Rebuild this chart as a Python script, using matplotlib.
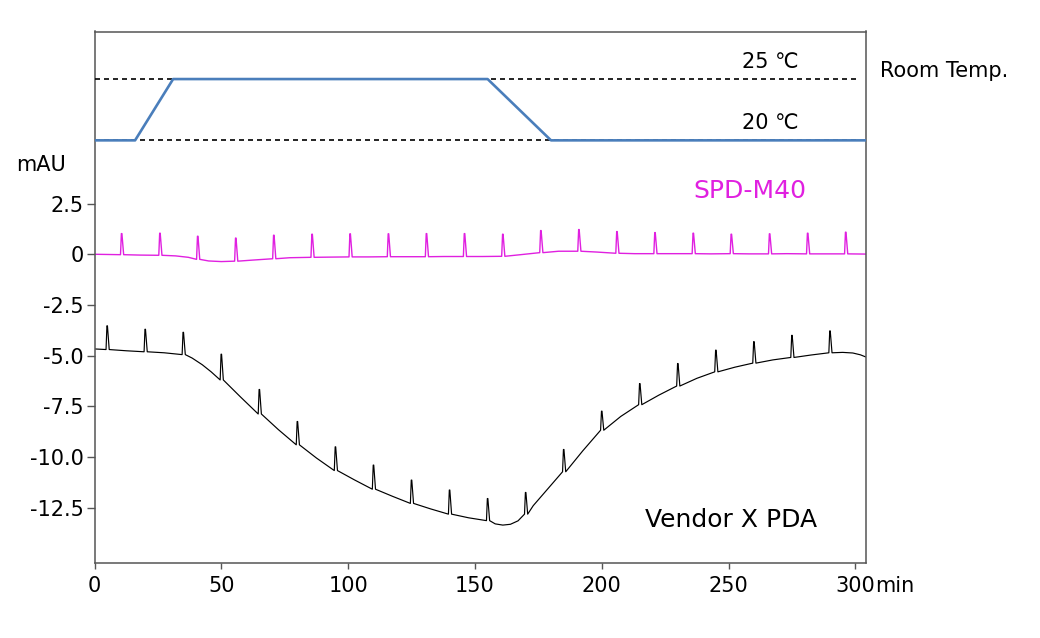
import numpy as np
import matplotlib
matplotlib.use("Agg")
import matplotlib.pyplot as plt

plt.rcParams['font.family'] = ['DejaVu Sans', 'Noto Sans CJK JP']
plt.rcParams['axes.unicode_minus'] = False

# ---- Room temperature program (deg C vs min) ----
temp_time = [0, 16, 31, 155, 180, 304]
temp_value = [20, 20, 25, 25, 20, 20]
temp_levels = [25, 20]
temp_labels = ['25 ℃', '20 ℃']

# ---- SPD-M40 trace (mAU) ----
spd_base_t = [0, 10.7, 18, 25.8, 32, 37, 40.7, 45, 50, 55.7, 62, 70.7, 77, 85.8, 93,
              100.8, 108, 115.9, 123, 130.9, 138, 145.9, 153, 161.0, 168, 176.0, 183,
              191.0, 198, 206.0, 213, 221.0, 228, 236.1, 243, 251.1, 258, 266.2, 273,
              281.2, 288, 296.2, 304]
spd_base_v = [0.0, -0.02, -0.04, -0.05, -0.08, -0.15, -0.25, -0.33, -0.36, -0.34, -0.29,
              -0.22, -0.17, -0.15, -0.14, -0.13, -0.13, -0.12, -0.12, -0.12, -0.11, -0.11,
              -0.11, -0.10, -0.02, 0.08, 0.15, 0.15, 0.11, 0.05, 0.03, 0.03, 0.03, 0.03,
              0.02, 0.03, 0.02, 0.02, 0.03, 0.02, 0.02, 0.02, 0.01]
spd_peak_t = [10.7, 25.8, 40.7, 55.7, 70.7, 85.8, 100.8, 115.9, 130.9, 145.9, 161.0,
              176.0, 191.0, 206.0, 221.0, 236.1, 251.1, 266.2, 281.2, 296.2]
spd_peak_v = [1.02, 1.04, 0.89, 0.80, 0.94, 0.99, 1.01, 1.01, 1.02, 1.02, 0.99,
              1.17, 1.22, 1.12, 1.07, 1.04, 0.99, 1.01, 1.04, 1.09]

# ---- Vendor X PDA trace (mAU) ----
vx_base_t = [0, 5, 12.5, 20, 27.5, 35, 38.5, 42.5, 46, 50, 57.5, 65, 72.5, 80, 87.5, 95,
             102.5, 110, 117.5, 125, 132.5, 140, 147.5, 155, 158, 161, 164, 167, 170, 173,
             177.5, 185, 192.5, 200, 207.5, 215, 222.5, 230, 237.5, 245, 252.5, 260,
             267.5, 275, 282.5, 290, 295, 299, 302, 304]
vx_base_v = [-4.67, -4.70, -4.76, -4.81, -4.86, -4.95, -5.12, -5.45, -5.80, -6.20, -7.03,
             -7.88, -8.65, -9.40, -10.05, -10.67, -11.13, -11.59, -11.94, -12.29, -12.56,
             -12.82, -13.00, -13.14, -13.30, -13.36, -13.32, -13.15, -12.82, -12.40,
             -11.75, -10.73, -9.70, -8.68, -8.00, -7.42, -6.95, -6.50, -6.12, -5.80,
             -5.57, -5.37, -5.21, -5.09, -4.97, -4.86, -4.84, -4.87, -4.96, -5.06]
vx_peak_t = [5, 20, 35, 50, 65, 80, 95, 110, 125, 140, 155, 170, 185, 200, 215, 230,
             245, 260, 275, 290]
vx_peak_v = [-3.53, -3.70, -3.85, -4.93, -6.67, -8.25, -9.50, -10.40, -11.14, -11.63,
             -12.05, -11.75, -9.63, -7.74, -6.38, -5.39, -4.73, -4.31, -4.00, -3.78]

x_ticks = [0, 50, 100, 150, 200, 250, 300]
x_tick_labels = ['0', '50', '100', '150', '200', '250', '300']
y_ticks = [2.5, 0, -2.5, -5.0, -7.5, -10.0, -12.5]
y_tick_labels = ['2.5', '0', '-2.5', '-5.0', '-7.5', '-10.0', '-12.5']


def build_trace(base_t, base_v, peak_t, peak_v, lead=0.45, tail=0.8):
    apex = dict(zip(peak_t, peak_v))
    xs, ys = [], []
    for t, v in zip(base_t, base_v):
        if t in apex:
            xs += [t - lead, t - 0.1, t + 0.1, t + tail]
            ys += [v, apex[t], apex[t], v]
        else:
            xs.append(t)
            ys.append(v)
    return xs, ys


W, H = 1040, 638
fig = plt.figure(figsize=(W / 100, H / 100), dpi=100)
L, R, T, B = 94.5, 866, 31.5, 563
ax = fig.add_axes([L / W, 1 - B / H, (R - L) / W, (B - T) / H])

spine_col = '#555555'
for s in ['left', 'bottom', 'right', 'top']:
    ax.spines[s].set_color(spine_col)
    ax.spines[s].set_linewidth(1.1)

magenta = '#E020E0'
sx, sy = build_trace(spd_base_t, spd_base_v, spd_peak_t, spd_peak_v)
ax.plot(sx, sy, color=magenta, lw=1.0)
vx, vy = build_trace(vx_base_t, vx_base_v, vx_peak_t, vx_peak_v)
ax.plot(vx, vy, color='black', lw=0.85)

ax.set_xlim(0, 304.2)
ax.set_ylim(-15.23, 10.99)
ax.set_xticks(x_ticks)
ax.set_xticklabels(x_tick_labels)
ax.set_yticks(y_ticks)
ax.set_yticklabels(y_tick_labels)
ax.tick_params(axis='x', length=4.5, width=1, color=spine_col, pad=5, labelsize=15)
ax.tick_params(axis='y', length=6, width=1, color=spine_col, pad=2, labelsize=15)

ax.annotate('min', xy=(300, 0), xycoords=('data', 'axes fraction'),
            xytext=(14.3, -9.5), textcoords='offset points', ha='left', va='top',
            fontsize=15)

ax.text(258.5, 2.76, 'SPD-M40', color=magenta, fontsize=18, ha='center', va='baseline')
ax.text(251, -13.44, 'Vendor X PDA', color='black', fontsize=18, ha='center', va='baseline')

# temperature axis (twin, hidden)
ax2 = ax.twinx()
ax2.set_ylim(-14.48, 28.88)
ax2.set_xlim(0, 304.2)
ax2.axis('off')
for lvl in temp_levels:
    ax2.plot([0, 301], [lvl, lvl], color='black', lw=1.2, ls=(0, (3, 2.4)))
ax2.plot(temp_time, temp_value, color='#4A7EBB', lw=1.9)
for lvl, lab in zip(temp_levels, temp_labels):
    ax2.annotate(lab, xy=(266.4, lvl), xytext=(0, 5), textcoords='offset points',
                 ha='center', va='bottom', fontsize=15)

fig.text(880 / W, 1 - 77 / H, 'Room Temp.', fontsize=15, ha='left', va='baseline')
fig.text(41 / W, 1 - 171 / H, 'mAU', fontsize=15, ha='center', va='baseline')

fig.savefig('out.png', dpi=100)
